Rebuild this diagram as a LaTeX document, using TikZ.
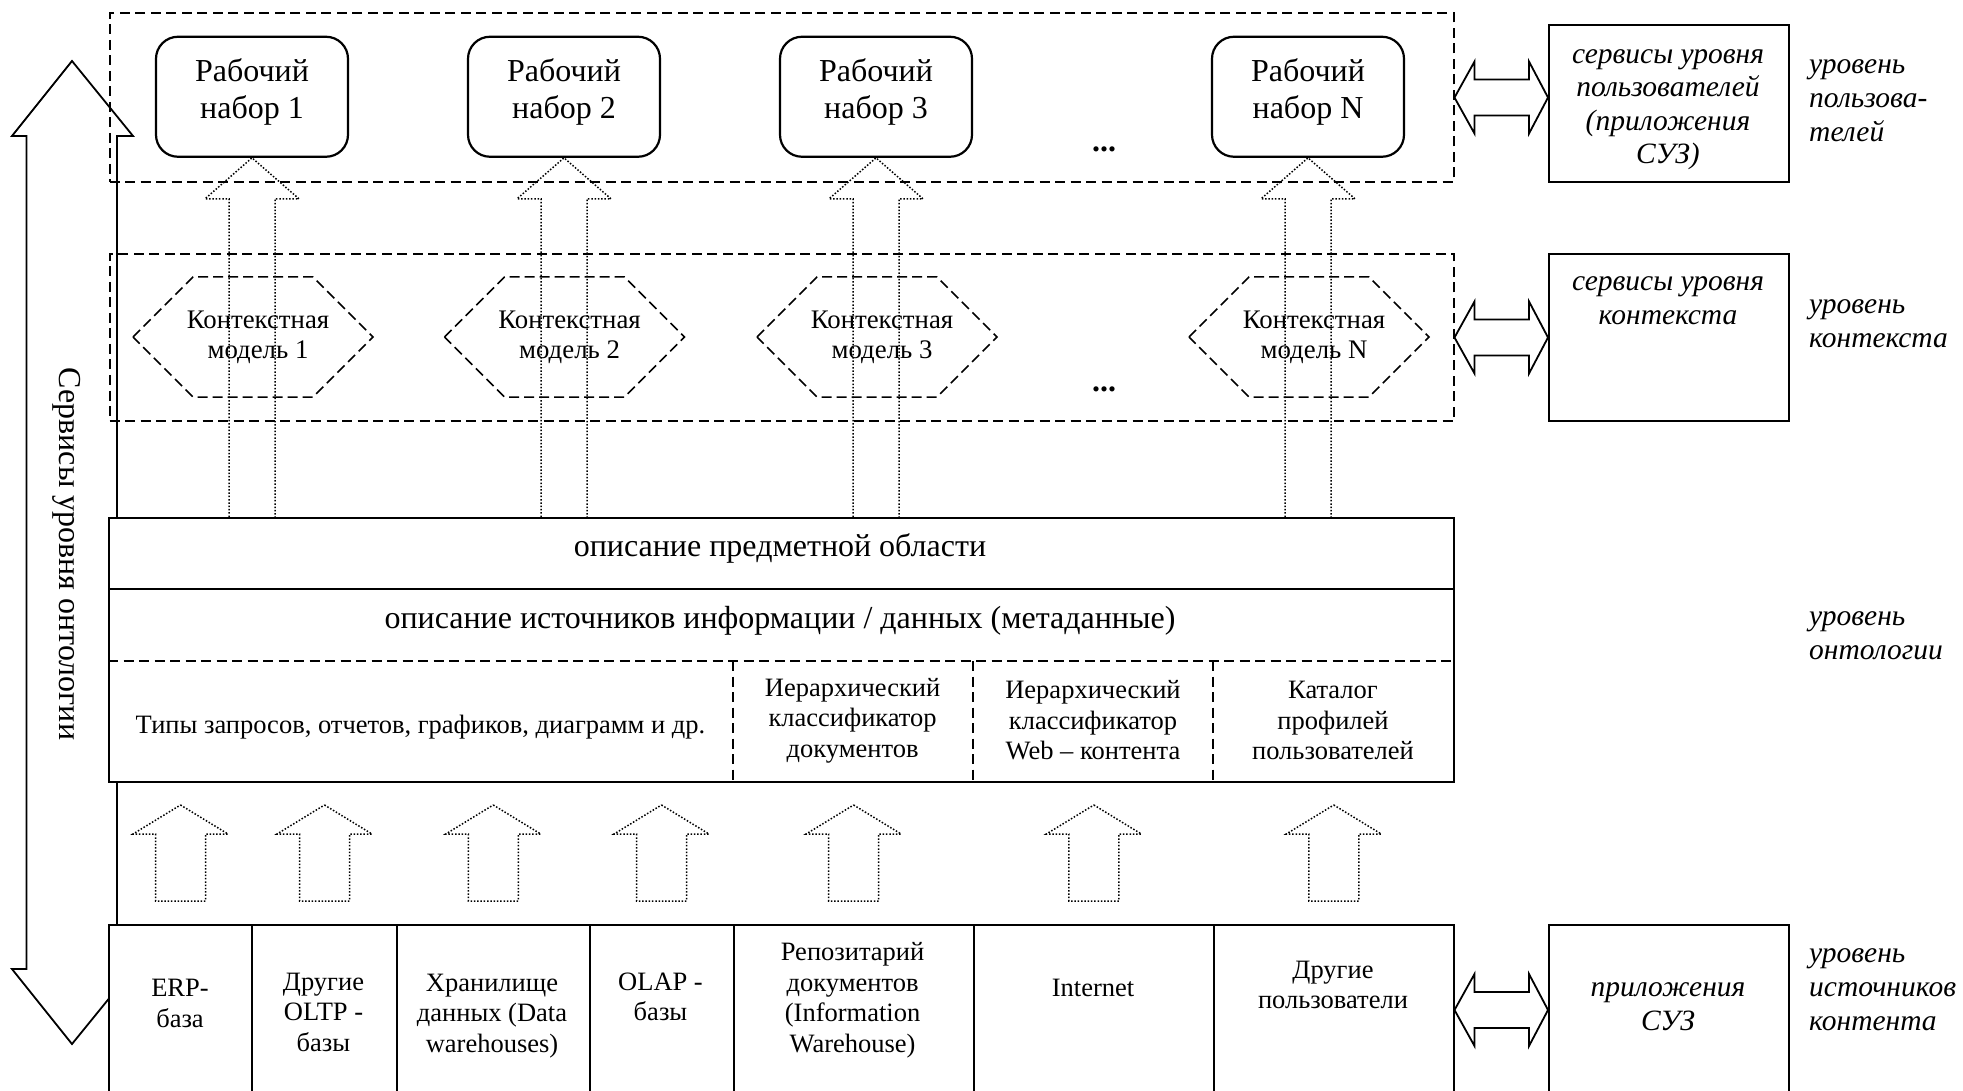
\documentclass[tikz,border=0pt]{standalone}
\usepackage{fontspec}
\setmainfont{Liberation Serif}
\usetikzlibrary{calc}
\newcommand\hdblarrow[2]{%
 \draw[blkline] let \p1=(#1), \p2=(#2) in
  (\x1,\y1) -- (\x1+20pt,\y1+36pt) -- (\x1+20pt,\y1+18pt) -- (\x2-19pt,\y1+18pt) -- (\x2-19pt,\y1+36pt) -- (\x2,\y1) -- (\x2-19pt,\y1-36pt) -- (\x2-19pt,\y1-18pt) -- (\x1+20pt,\y1-18pt) -- (\x1+20pt,\y1-36pt) -- cycle;}
\begin{document}
\begin{tikzpicture}[x=1pt,y=-1pt,
  blkline/.style={line width=1.8pt, line join=miter},
  boxs/.style={draw, line width=2pt, fill=white, inner sep=0pt, anchor=north west},
  dframe/.style={draw, line width=2pt, dash pattern=on 10pt off 5.5pt, inner sep=0pt, anchor=north west},
  dotarr/.style={line width=1.5pt, dash pattern=on 1.5pt off 1.8pt},
  hexd/.style={line width=1.5pt, dash pattern=on 10pt off 5pt},
  wsbox/.style={draw, line width=2.2pt, rounded corners=22pt, minimum width=192pt, minimum height=120pt, inner sep=0pt},
  wstext/.style={font=\fontsize{32}{37.5}\selectfont, align=center, inner sep=0pt},
  cmtext/.style={font=\fontsize{26.8}{30}\selectfont, align=center, inner sep=0pt},
  bigtext/.style={font=\fontsize{32}{37.5}\selectfont, inner sep=0pt},
  smtext/.style={font=\fontsize{26.5}{30.5}\selectfont, align=center, inner sep=0pt},
  ittext/.style={font=\fontsize{29.5}{33.5}\selectfont\itshape, align=center, inner sep=0pt},
  lbltext/.style={font=\fontsize{29.5}{33.8}\selectfont\itshape, align=left, inner sep=0pt, anchor=west},
  dotstext/.style={font=\fontsize{32}{32}\selectfont\bfseries, inner sep=0pt},
]
\useasboundingbox (0,0) rectangle (1963,1091);
\clip (0,0) rectangle (1963,1091);
\fill[white] (0,0) rectangle (1963,1091);

% big vertical double arrow
\draw[blkline] (72,61) -- (133,136) -- (117,136) -- (117,969) -- (133,969) -- (72,1044) -- (12,969) -- (26.5,969) -- (26.5,136) -- (12,136) -- cycle;
\node[font=\fontsize{32}{32}\selectfont, inner sep=0pt, rotate=-90] (ontsvc) at (67,554) {Сервисы уровня онтологии};

% dashed frames
\node[dframe, minimum width=1344pt, minimum height=168.5pt] (uframe) at (108.5,12.3) {};
\node[dframe, minimum width=1344pt, minimum height=167pt] (cframe) at (108.5,253) {};

% working sets
\node[wsbox] (ws1) at (252,96.75) {};
\node[wsbox] (ws2) at (564,96.75) {};
\node[wsbox] (ws3) at (876,96.75) {};
\node[wsbox] (ws4) at (1308,96.75) {};
\node[wstext] (ws1t) at (252,92) {Рабочий\\набор 1};
\node[wstext] (ws2t) at (564,92) {Рабочий\\набор 2};
\node[wstext] (ws3t) at (876,92) {Рабочий\\набор 3};
\node[wstext] (ws4t) at (1308,92) {Рабочий\\набор N};
\node[dotstext] (dots1) at (1104,149) {...};

% context models
\foreach \c/\n/\t in {253/cm1/1, 564.5/cm2/2, 877/cm3/3, 1309/cm4/N}{
  \node[cmtext] (\n) at (\c+5,337.5) {Контекстная\\модель \t};
  \draw[hexd] (\c-120,337) -- (\c-60,277) -- (\c+60,277) -- (\c+120,337) -- (\c+60,397) -- (\c-60,397) -- cycle;
}
\node[dotstext] (dots2) at (1104,389) {...};

% ontology block
\node[boxs, minimum width=1344.5pt, minimum height=264pt] (ont) at (108,517) {};
\draw[line width=2pt] (108,588.5) -- (1452.5,588.5);
\draw[line width=2pt, dash pattern=on 10pt off 5.5pt] (108,661) -- (1452.5,661);
\foreach \x in {732.5, 972.7, 1213}{
  \draw[line width=2pt, dash pattern=on 10pt off 5.5pt] (\x,661) -- (\x,781);
}
\node[bigtext] (pred) at (780,548) {описание предметной области};
\node[bigtext] (meta) at (780,621) {описание источников информации / данных (метаданные)};
\node[smtext] (types) at (420.5,727) {Типы запросов, отчетов, графиков, диаграмм и др.};
\node[smtext] (hdoc) at (852.6,720.5) {Иерархический\\классификатор\\документов};
\node[smtext] (hweb) at (1093,720.5) {Иерархический\\классификатор\\Web – контента};
\node[smtext] (cat) at (1333,720.5) {Каталог\\профилей\\пользователей};

% source boxes
\node[boxs, minimum width=143pt, minimum height=170pt] (b1) at (108,924) {};
\node[boxs, minimum width=145pt, minimum height=170pt] (b2) at (251,924) {};
\node[boxs, minimum width=192.5pt, minimum height=170pt] (b3) at (396,924) {};
\node[boxs, minimum width=144pt, minimum height=170pt] (b4) at (588.5,924) {};
\node[boxs, minimum width=240.2pt, minimum height=170pt] (b5) at (732.5,924) {};
\node[boxs, minimum width=240.3pt, minimum height=170pt] (b6) at (972.7,924) {};
\node[boxs, minimum width=239.5pt, minimum height=170pt] (b7) at (1213,924) {};
\node[smtext] (b1t) at (180,1003.5) {ERP-\\база};
\node[smtext] (b2t) at (323.5,1012) {Другие\\OLTP -\\базы};
\node[smtext] (b3t) at (492,1016) {Хранилище\\данных (Data\\warehouses)};
\node[smtext] (b4t) at (660.5,997) {OLAP -\\базы};
\node[smtext] (b5t) at (852.6,1000) {Репозитарий\\документов\\(Information\\Warehouse)};
\node[smtext] (b6t) at (1093,988) {Internet};
\node[smtext] (b7t) at (1333,985) {Другие\\пользователи};

% upper dotted arrows
\foreach \n in {ws1,ws2,ws3,ws4}{
  \draw[dotarr] ($(\n.south |- ont.north)+(-23,0)$) -- ($(\n.south)+(-23,41)$) -- ++(-24,0) -- (\n.south) -- ++(47,41) -- ++(-24,0) -- ($(\n.south |- ont.north)+(23,0)$);
}
% lower dotted arrows
\foreach \n in {b1,b2,b3,b4,b5,b6,b7}{
  \draw[dotarr] ($(\n.north)+(0,-119)$) -- ++(47.5,29) -- ++(-22.5,0) -- ++(0,67) -- ++(-50,0) -- ++(0,-67) -- ++(-22.5,0) -- cycle;
}

% right side services
\node[boxs, minimum width=240pt, minimum height=156.5pt] (usvc) at (1548,24.5) {};
\node[ittext] (usvct) at (1668,109.5) {сервисы уровня\\пользователей\\(приложения\\СУЗ)};
\node[boxs, minimum width=240pt, minimum height=167pt] (csvc) at (1548,253) {};
\node[ittext] (csvct) at (1668,300.5) {сервисы уровня\\контекста};
\node[boxs, minimum width=240pt, minimum height=170pt] (apps) at (1548,924) {};
\node[ittext] (appst) at (1668,1006.5) {приложения\\СУЗ};

\hdblarrow{uframe.east}{usvc.west |- uframe.east}
\hdblarrow{cframe.east}{csvc.west}
\hdblarrow{b7.east}{apps.west}

% level labels
\node[lbltext] (l1) at (1809,100.7) {уровень\\пользова-\\телей};
\node[lbltext] (l2) at (1809,323.5) {уровень\\контекста};
\node[lbltext] (l3) at (1809,636) {уровень\\онтологии};
\node[lbltext] (l4) at (1809,989.5) {уровень\\источников\\контента};
\end{tikzpicture}
\end{document}
